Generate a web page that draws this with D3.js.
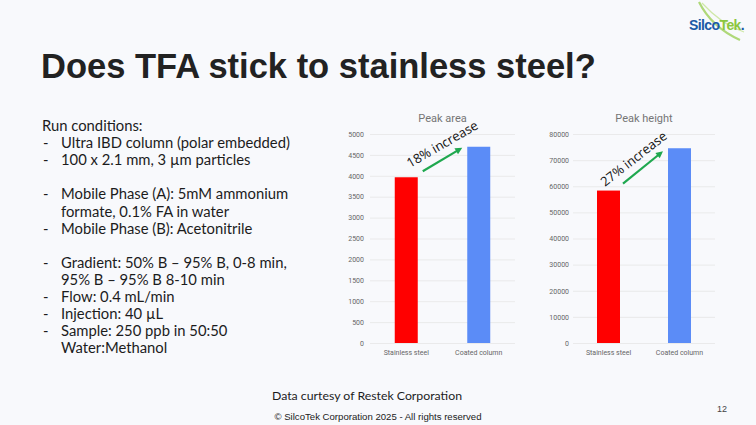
<!DOCTYPE html>
<html>
<head>
<meta charset="utf-8">
<script src="https://cdn.jsdelivr.net/npm/d3@7"></script>
<style>
  html, body { margin: 0; padding: 0; background: #f8f9fc; }
  svg { display: block; }
</style>
</head>
<body>
<svg id="slide" width="756" height="425"></svg>
<script>
// chart data
const categories = ["Stainless steel", "Coated column"];
const peakArea = [3965, 4695];
const peakHeight = [58350, 74550];
const areaTicks = [0, 500, 1000, 1500, 2000, 2500, 3000, 3500, 4000, 4500, 5000];
const heightTicks = [0, 10000, 20000, 30000, 40000, 50000, 60000, 70000, 80000];
const barColors = ["#ff0000", "#5b8cf7"];
const increaseLabels = ["18% increase", "27% increase"];

const runConditions = [
    { dash: false, text: "Run conditions:" },
    { dash: true, text: "Ultra IBD column (polar embedded)" },
    { dash: true, text: "100 x 2.1 mm, 3 µm particles" },
    { dash: false, text: "" },
    { dash: true, text: "Mobile Phase (A): 5mM ammonium" },
    { dash: false, text: "formate, 0.1% FA in water" },
    { dash: true, text: "Mobile Phase (B): Acetonitrile" },
    { dash: false, text: "" },
    { dash: true, text: "Gradient: 50% B – 95% B, 0-8 min," },
    { dash: false, text: "95% B – 95% B 8-10 min" },
    { dash: true, text: "Flow: 0.4 mL/min" },
    { dash: true, text: "Injection: 40 µL" },
    { dash: true, text: "Sample: 250 ppb in 50:50" },
    { dash: false, text: "Water:Methanol" }
];

const svg = d3.select("#slide");
const bodyFont = "Lato, 'Open Sans', sans-serif";

// title
svg.append("text")
    .attr("x", 41)
    .attr("y", 78)
    .style("font-family", "'Liberation Sans', Arial, sans-serif")
    .style("font-weight", 700)
    .style("font-size", "34.5px")
    .style("fill", "#222")
    .text("Does TFA stick to stainless steel?");

// logo
const logo = svg.append("g");
logo.append("path")
    .attr("d", "M699,2 C706,16 718,30 740,40")
    .attr("fill", "none")
    .attr("stroke", "#a6d46a")
    .attr("stroke-width", 2.2)
    .attr("opacity", 0.9);
logo.append("path")
    .attr("d", "M702,3 C712,14 726,26 744,32")
    .attr("fill", "none")
    .attr("stroke", "#cfe8a8")
    .attr("stroke-width", 1.2);
const logoText = logo.append("text")
    .attr("x", 689)
    .attr("y", 30)
    .style("font-family", "'Liberation Sans', Arial, sans-serif")
    .style("font-weight", 700)
    .style("font-size", "14px")
    .style("letter-spacing", "-0.6px");
logoText.append("tspan").attr("fill", "#1b5aa6").text("Silco");
logoText.append("tspan").attr("fill", "#8cc63f").text("Tek");
logoText.append("tspan").attr("fill", "#1b5aa6").text(".");

// run conditions
const cond = svg.append("g").style("font-family", bodyFont).style("font-size", "14.8px").style("fill", "#1c1c1c");
runConditions.forEach((row, i) => {
    const y = 131 + i * 17.1;
    if (row.dash) {
        cond.append("text").attr("x", 43).attr("y", y).text("-");
    }
    const x = (i === 0) ? 42 : 61;
    cond.append("text").attr("x", x).attr("y", y).text(row.text);
});

// footer
svg.append("text")
    .attr("x", 367)
    .attr("y", 400)
    .attr("text-anchor", "middle")
    .style("font-family", bodyFont)
    .style("font-size", "12.3px")
    .style("fill", "#1c1c1c")
    .text("Data curtesy of Restek Corporation");
svg.append("text")
    .attr("x", 378)
    .attr("y", 420)
    .attr("text-anchor", "middle")
    .style("font-family", "'Liberation Sans', Arial, sans-serif")
    .style("font-size", "9.6px")
    .style("fill", "#222")
    .text("© SilcoTek Corporation  2025   - All rights reserved");
svg.append("text")
    .attr("x", 727)
    .attr("y", 412)
    .attr("text-anchor", "end")
    .style("font-family", "'Liberation Sans', Arial, sans-serif")
    .style("font-size", "9px")
    .style("fill", "#444")
    .text("12");

function drawBarChart(cfg) {
    const g = svg.append("g");
    const y = d3.scaleLinear().domain([0, cfg.max]).range([343, 134]);
    const x = d3.scalePoint().domain(categories).range([cfg.left, cfg.right]).padding(0.5);
    const barW = 23;

    g.append("text")
        .attr("x", (cfg.left + cfg.right) / 2)
        .attr("y", 122)
        .attr("text-anchor", "middle")
        .style("font-family", "Roboto, sans-serif")
        .style("font-size", "11px")
        .style("fill", "#757575")
        .text(cfg.title);

    const axis = d3.axisLeft(y)
        .tickValues(cfg.ticks)
        .tickFormat(d3.format("d"))
        .tickSize(-(cfg.right - cfg.left))
        .tickPadding(cfg.left - cfg.labelX);
    const ax = g.append("g")
        .attr("transform", `translate(${cfg.left},0)`)
        .call(axis);
    ax.select(".domain").remove();
    ax.selectAll(".tick line").attr("stroke", "#e6e6e6").attr("stroke-width", 0.8);
    ax.selectAll(".tick text")
        .style("font-family", "Roboto, sans-serif")
        .style("font-size", "7px")
        .style("fill", "#666");

    g.selectAll("rect.bar")
        .data(cfg.values)
        .enter()
        .append("rect")
        .attr("class", "bar")
        .attr("x", (d, i) => x(categories[i]) - barW / 2)
        .attr("y", d => y(d))
        .attr("width", barW)
        .attr("height", d => y(0) - y(d))
        .attr("fill", (d, i) => barColors[i]);

    g.selectAll("text.cat")
        .data(categories)
        .enter()
        .append("text")
        .attr("class", "cat")
        .attr("x", d => x(d))
        .attr("y", 355)
        .attr("text-anchor", "middle")
        .style("font-family", "Roboto, sans-serif")
        .style("font-size", "7px")
        .style("fill", "#666")
        .text(d => d);

    // increase arrow + label
    const x1 = x(categories[0]) + barW / 2 + cfg.arrowGap[0];
    const y1 = y(cfg.values[0]) - cfg.arrowLift[0];
    const x2 = x(categories[1]) - barW / 2 - cfg.arrowGap[1];
    const y2 = y(cfg.values[1]) + cfg.arrowLift[1];
    const ang = Math.atan2(y2 - y1, x2 - x1);
    const head = 7;
    g.append("line")
        .attr("x1", x1).attr("y1", y1)
        .attr("x2", x2 - Math.cos(ang) * head * 0.8)
        .attr("y2", y2 - Math.sin(ang) * head * 0.8)
        .attr("stroke", "#1fa84f")
        .attr("stroke-width", 2.2);
    const hx = [
        [x2, y2],
        [x2 - head * Math.cos(ang) + 3.5 * Math.sin(ang), y2 - head * Math.sin(ang) - 3.5 * Math.cos(ang)],
        [x2 - head * Math.cos(ang) - 3.5 * Math.sin(ang), y2 - head * Math.sin(ang) + 3.5 * Math.cos(ang)]
    ];
    g.append("path")
        .attr("d", d3.line()(hx) + "Z")
        .attr("fill", "#1fa84f");

    g.append("text")
        .attr("transform", `translate(${cfg.labelPos[0]},${cfg.labelPos[1]}) rotate(${cfg.labelAngle})`)
        .style("font-family", "'Open Sans', sans-serif")
        .style("font-size", "13px")
        .style("fill", "#111")
        .text(cfg.label);
}

drawBarChart({
    title: "Peak area",
    values: peakArea,
    ticks: areaTicks,
    max: 5000,
    left: 370,
    right: 515,
    labelX: 364,
    arrowGap: [5, 5],
    arrowLift: [6, 1],
    label: increaseLabels[0],
    labelPos: [410, 168],
    labelAngle: -30
});

drawBarChart({
    title: "Peak height",
    values: peakHeight,
    ticks: heightTicks,
    max: 80000,
    left: 573,
    right: 715,
    labelX: 569,
    arrowGap: [3, 5],
    arrowLift: [7, 3],
    label: increaseLabels[1],
    labelPos: [605, 187],
    labelAngle: -38
});
</script>
</body>
</html>
